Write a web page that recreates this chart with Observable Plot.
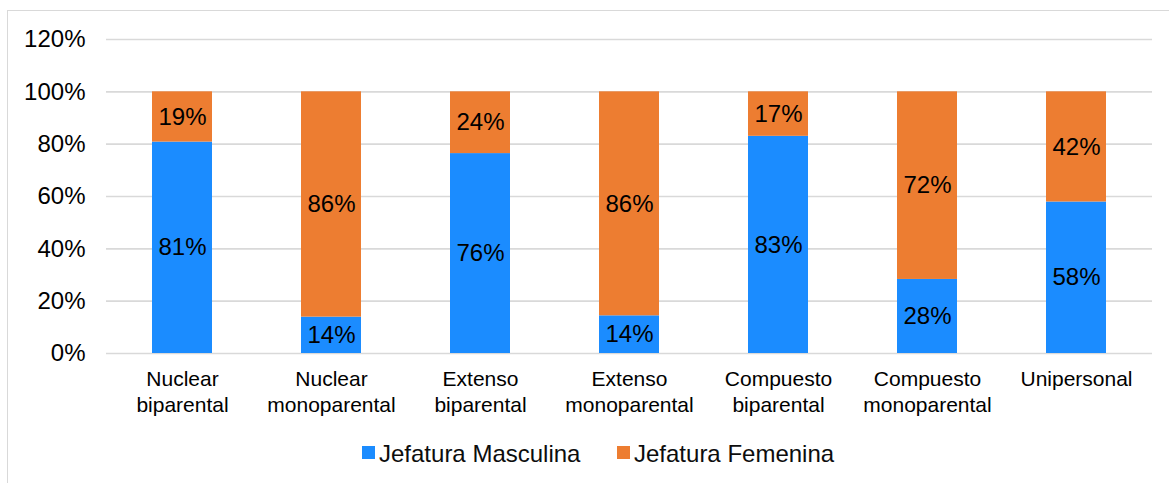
<!DOCTYPE html>
<html><head><meta charset="utf-8">
<script src="https://cdn.jsdelivr.net/npm/d3@7"></script>
<script src="https://cdn.jsdelivr.net/npm/@observablehq/plot@0.6"></script>
<style>
html,body{margin:0;padding:0;background:#fff}
body{width:1169px;height:483px;overflow:hidden;position:relative;font-family:"Liberation Sans",Arial,sans-serif}
#chart{position:absolute;left:0;top:0}
#legend{position:absolute;left:0;top:420px}
#frame{position:absolute;left:7px;top:10px;width:1250px;height:560px;border:1.5px solid #d9d9d9;box-sizing:border-box;pointer-events:none}
</style>
</head><body>
<div id="chart"></div>
<div id="legend"></div>
<div id="frame"></div>
<script>
const categories = ["Nuclear\nbiparental","Nuclear\nmonoparental","Extenso\nbiparental","Extenso\nmonoparental","Compuesto\nbiparental","Compuesto\nmonoparental","Unipersonal"];
const series = ["Jefatura Masculina","Jefatura Femenina"];
const masculina = [80.8, 13.9, 76.4, 14.4, 83.0, 28.3, 57.9];
const femenina  = [19.2, 86.1, 23.6, 85.6, 17.0, 71.7, 42.1];
const colors = ["#1B8CFF","#ED7D31"];
const yTicks = [0,20,40,60,80,100,120];

const data = categories.flatMap((c,i)=>[
  {cat:c, serie:series[0], v:masculina[i]},
  {cat:c, serie:series[1], v:femenina[i]}
]);

const font = '"Liberation Sans", Arial, sans-serif';
const chart = Plot.plot({
  width:1169, height:420,
  marginLeft:106, marginRight:17, marginTop:39, marginBottom:67,
  style:{fontFamily:font, fontSize:"24px", color:"#000", background:"transparent", overflow:"visible"},
  x:{domain:categories, paddingInner:0.6, paddingOuter:0.3, label:null},
  y:{domain:[0,120], label:null},
  color:{domain:series, range:colors},
  marks:[
    Plot.gridY(yTicks,{stroke:"#d9d9d9", strokeOpacity:1, strokeWidth:1.6}),
    Plot.axisY(yTicks,{tickSize:0, tickPadding:21, tickFormat:d=>d+"%", fontSize:24, label:null}),
    Plot.axisX({tickSize:0, tickPadding:15, fontSize:21, lineHeight:1.2, label:null}),
    Plot.barY(data,{x:"cat", y:"v", fill:"serie", order:series}),
    Plot.text(data, Plot.stackY({x:"cat", y:"v", z:"serie", order:series, text:d=>Math.round(d.v)+"%", fontSize:24, fill:"#000"}))
  ]
});
document.getElementById("chart").appendChild(chart);

// legend
const lg = d3.select("#legend").append("svg").attr("width",1169).attr("height",63)
  .style("font-family",font);
const items = [{x:362},{x:617}];
series.forEach((s,i)=>{
  const g = lg.append("g").attr("transform",`translate(${items[i].x},0)`);
  g.append("rect").attr("x",0).attr("y",26).attr("width",13).attr("height",13).attr("fill",colors[i]);
  g.append("text").attr("x",17).attr("y",42).attr("font-size",24).attr("fill","#0d0d0d").text(s);
});
</script>
</body></html>
